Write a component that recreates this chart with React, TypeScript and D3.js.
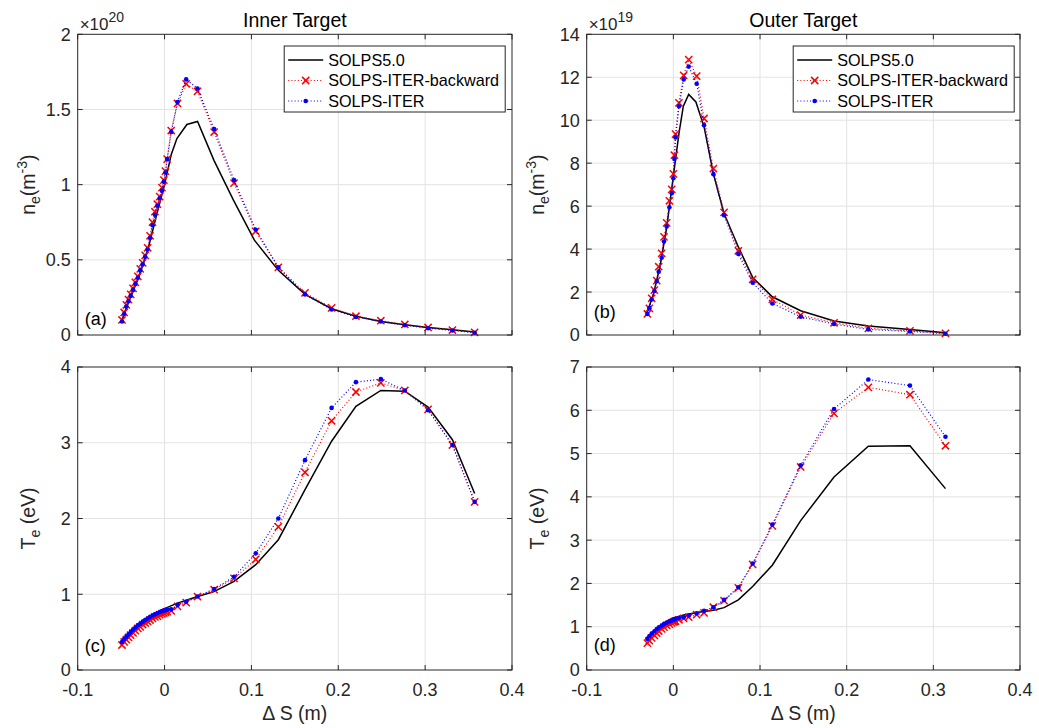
import React from "react";
import * as d3 from "d3";

// ---------- data ----------
const X_TICKS = [-0.1, 0, 0.1, 0.2, 0.3, 0.4];

// Inner target grid (panels a, c)
const xInner = [-0.049, -0.0465, -0.044, -0.0415, -0.039, -0.0363, -0.0336, -0.0308, -0.028, -0.0252, -0.0223, -0.0195, -0.0167, -0.0139, -0.0111, -0.0083, -0.0056, -0.003, -0.0008, 0.001, 0.003, 0.0077, 0.0149, 0.0249, 0.0379, 0.0571, 0.08, 0.105, 0.131, 0.1617, 0.1923, 0.2203, 0.249, 0.2766, 0.3034, 0.3314, 0.357];
const neInnerIter = [0.09, 0.14, 0.19, 0.225, 0.26, 0.3, 0.34, 0.38, 0.43, 0.47, 0.52, 0.57, 0.645, 0.73, 0.8, 0.86, 0.91, 0.96, 1.02, 1.08, 1.17, 1.35, 1.55, 1.7, 1.64, 1.37, 1.03, 0.7, 0.45, 0.27, 0.17, 0.12, 0.09, 0.065, 0.045, 0.03, 0.015];
const neInnerBack = [0.1, 0.15, 0.2, 0.235, 0.27, 0.31, 0.35, 0.39, 0.44, 0.48, 0.53, 0.58, 0.66, 0.75, 0.82, 0.87, 0.92, 0.98, 1.03, 1.09, 1.17, 1.36, 1.54, 1.67, 1.62, 1.35, 1.01, 0.69, 0.45, 0.28, 0.18, 0.125, 0.095, 0.07, 0.05, 0.033, 0.018];
const teInnerIter = [0.37, 0.41, 0.44, 0.47, 0.5, 0.53, 0.56, 0.59, 0.61, 0.635, 0.66, 0.68, 0.7, 0.72, 0.735, 0.75, 0.765, 0.775, 0.785, 0.79, 0.795, 0.8, 0.86, 0.9, 0.97, 1.07, 1.23, 1.54, 2.0, 2.77, 3.46, 3.8, 3.84, 3.69, 3.43, 2.97, 2.22];
const teInnerBack = [0.33, 0.37, 0.4, 0.43, 0.46, 0.49, 0.52, 0.55, 0.57, 0.6, 0.62, 0.64, 0.66, 0.68, 0.7, 0.71, 0.73, 0.74, 0.75, 0.76, 0.77, 0.78, 0.84, 0.89, 0.97, 1.06, 1.21, 1.46, 1.89, 2.61, 3.29, 3.67, 3.79, 3.69, 3.44, 2.97, 2.22];

const xInnerS5ne = [-0.049, -0.04, -0.03, -0.02, -0.01, 0.0, 0.0077, 0.0142, 0.0257, 0.038, 0.057, 0.0793, 0.1034, 0.131, 0.1617, 0.1923, 0.2203, 0.249, 0.2766, 0.3034, 0.3314, 0.357];
const neInnerS5 = [0.1, 0.24, 0.38, 0.55, 0.78, 1.0, 1.2, 1.307, 1.4, 1.42, 1.16, 0.897, 0.631, 0.43, 0.27, 0.175, 0.125, 0.09, 0.068, 0.05, 0.035, 0.02];
const xInnerS5te = [-0.049, -0.03, -0.02, -0.01, 0.0, 0.014, 0.038, 0.057, 0.08, 0.105, 0.131, 0.1617, 0.1923, 0.2203, 0.249, 0.2766, 0.3034, 0.3314, 0.357];
const teInnerS5 = [0.38, 0.6, 0.68, 0.75, 0.81, 0.88, 0.97, 1.035, 1.17, 1.39, 1.72, 2.38, 3.02, 3.48, 3.69, 3.68, 3.47, 3.04, 2.33];

// Outer target grid (panels b, d)
const xOuter = [-0.03, -0.0277, -0.025, -0.0219, -0.0192, -0.0169, -0.0135, -0.0108, -0.0077, -0.0046, -0.0019, 0.0, 0.0012, 0.0025, 0.0065, 0.0119, 0.0177, 0.0269, 0.0354, 0.0462, 0.0585, 0.075, 0.0915, 0.1142, 0.1469, 0.1854, 0.225, 0.273, 0.314];
const neOuterIter = [0.98, 1.25, 1.65, 2.05, 2.5, 2.95, 3.6, 4.35, 5.05, 5.95, 6.6, 7.3, 8.2, 9.2, 10.65, 11.9, 12.5, 11.7, 9.77, 7.49, 5.58, 3.77, 2.43, 1.47, 0.85, 0.51, 0.26, 0.17, 0.06];
const neOuterBack = [0.98, 1.24, 1.71, 2.09, 2.53, 3.18, 3.8, 4.57, 5.22, 6.25, 6.78, 7.5, 8.37, 9.35, 10.81, 12.09, 12.82, 12.05, 10.08, 7.75, 5.71, 3.92, 2.59, 1.66, 0.93, 0.57, 0.31, 0.19, 0.08];
const teOuterIter = [0.72, 0.78, 0.84, 0.89, 0.94, 0.98, 1.02, 1.06, 1.09, 1.12, 1.14, 1.16, 1.17, 1.18, 1.2, 1.22, 1.26, 1.31, 1.37, 1.45, 1.62, 1.91, 2.46, 3.36, 4.73, 6.03, 6.71, 6.57, 5.39];
const teOuterBack = [0.62, 0.68, 0.74, 0.8, 0.85, 0.9, 0.95, 0.99, 1.03, 1.06, 1.09, 1.11, 1.12, 1.13, 1.16, 1.19, 1.22, 1.28, 1.32, 1.45, 1.6, 1.9, 2.44, 3.33, 4.69, 5.93, 6.53, 6.36, 5.18];

const xOuterS5ne = [-0.03, -0.023, -0.0154, -0.0077, 0.0, 0.0065, 0.0115, 0.0177, 0.026, 0.0354, 0.0462, 0.0585, 0.075, 0.0915, 0.1142, 0.1469, 0.1854, 0.225, 0.273, 0.314];
const neOuterS5 = [1.08, 1.9, 3.2, 5.0, 7.4, 9.4, 10.65, 11.2, 10.85, 9.7, 7.5, 5.66, 4.1, 2.68, 1.78, 1.13, 0.65, 0.42, 0.26, 0.11];
const xOuterS5te = [-0.03, -0.02, -0.01, 0.0, 0.0119, 0.0269, 0.0462, 0.0585, 0.075, 0.0915, 0.1142, 0.1469, 0.1854, 0.225, 0.273, 0.314];
const teOuterS5 = [0.75, 0.95, 1.1, 1.2, 1.27, 1.33, 1.38, 1.44, 1.62, 1.93, 2.42, 3.45, 4.46, 5.17, 5.18, 4.19];

const LEGEND = ["SOLPS5.0", "SOLPS-ITER-backward", "SOLPS-ITER"];

// ---------- styling ----------
const FONT = "'Liberation Sans', Arial, Helvetica, sans-serif";
const AX = "#262626";
const GRID = "#e3e3e3";
const RED = "#ff0000";
const BLUE = "#0000ff";

type Pt = [number, number];
const zip = (xs: number[], ys: number[]): Pt[] => xs.map((x, i) => [x, ys[i]]);

interface PanelProps {
  left: number; right: number; top: number; bottom: number;
  yMax: number; yTicks: number[];
  black: Pt[]; red: Pt[]; blue: Pt[];
  tag: string; tagY: number;
  title?: string; exponent?: string;
  yLabel: "ne" | "te";
  showX: boolean;
}

function Cross({ x, y }: { x: number; y: number }) {
  const s = 3.6;
  return (
    <path d={`M${x - s},${y - s}L${x + s},${y + s}M${x - s},${y + s}L${x + s},${y - s}`} stroke={RED} strokeWidth={1.5} fill="none" />
  );
}

function Panel(p: PanelProps) {
  const xs = d3.scaleLinear().domain([-0.1, 0.4]).range([p.left, p.right]);
  const ys = d3.scaleLinear().domain([0, p.yMax]).range([p.bottom, p.top]);
  const line = d3.line<Pt>().x((d) => xs(d[0])).y((d) => ys(d[1]));
  const tickLen = 5;
  const midX = (p.left + p.right) / 2;
  const midY = (p.top + p.bottom) / 2;
  const lgX = p.left + 206.5;
  const lgY = 46;
  return (
    <g>
      {/* grid */}
      {X_TICKS.slice(1, -1).map((t) => (
        <line key={"gx" + t} x1={xs(t)} x2={xs(t)} y1={p.top} y2={p.bottom} stroke={GRID} strokeWidth={1} />
      ))}
      {p.yTicks.slice(1, -1).map((t) => (
        <line key={"gy" + t} x1={p.left} x2={p.right} y1={ys(t)} y2={ys(t)} stroke={GRID} strokeWidth={1} />
      ))}
      {/* series */}
      <path d={line(p.black) || ""} fill="none" stroke="#000" strokeWidth={1.5} />
      <path d={line(p.red) || ""} fill="none" stroke={RED} strokeWidth={1.2} strokeDasharray="1 2.2" />
      {p.red.map((d, i) => <Cross key={"r" + i} x={xs(d[0])} y={ys(d[1])} />)}
      <path d={line(p.blue) || ""} fill="none" stroke={BLUE} strokeWidth={1.2} strokeDasharray="1 2.2" />
      {p.blue.map((d, i) => <circle key={"b" + i} cx={xs(d[0])} cy={ys(d[1])} r={2.3} fill={BLUE} />)}
      {/* box + ticks */}
      <rect x={p.left} y={p.top} width={p.right - p.left} height={p.bottom - p.top} fill="none" stroke={AX} strokeWidth={1} />
      {X_TICKS.map((t) => (
        <g key={"tx" + t}>
          <line x1={xs(t)} x2={xs(t)} y1={p.bottom} y2={p.bottom - tickLen} stroke={AX} />
          <line x1={xs(t)} x2={xs(t)} y1={p.top} y2={p.top + tickLen} stroke={AX} />
          {p.showX && (
            <text x={xs(t)} y={p.bottom + 26} textAnchor="middle" fontSize={18} fill={AX} fontFamily={FONT}>{t}</text>
          )}
        </g>
      ))}
      {p.yTicks.map((t) => (
        <g key={"ty" + t}>
          <line x1={p.left} x2={p.left + tickLen} y1={ys(t)} y2={ys(t)} stroke={AX} />
          <line x1={p.right} x2={p.right - tickLen} y1={ys(t)} y2={ys(t)} stroke={AX} />
          <text x={p.left - 7} y={ys(t)} dy="0.36em" textAnchor="end" fontSize={18} fill={AX} fontFamily={FONT}>{t}</text>
        </g>
      ))}
      {/* exponent */}
      {p.exponent && (
        <text x={p.left + 2} y={p.top - 4} fontSize={17} fill={AX} fontFamily={FONT}>
          ×10<tspan fontSize={14} dy={-8}>{p.exponent}</tspan>
        </text>
      )}
      {/* title */}
      {p.title && (
        <text x={midX} y={p.top - 7} textAnchor="middle" fontSize={19.5} fill="#000" fontFamily={FONT}>{p.title}</text>
      )}
      {/* y label */}
      <text transform={`translate(${p.left - 43},${midY}) rotate(-90)`} textAnchor="middle" fontSize={19.5} fill={AX} fontFamily={FONT}>
        {p.yLabel === "ne" ? (
          <>n<tspan fontSize={14} dy={5}>e</tspan><tspan dy={-5}>(m</tspan><tspan fontSize={14} dy={-8}>-3</tspan><tspan dy={8}>)</tspan></>
        ) : (
          <>T<tspan fontSize={14} dy={5}>e</tspan><tspan dy={-5}> (eV)</tspan></>
        )}
      </text>
      {/* x label */}
      {p.showX && (
        <text x={midX} y={p.bottom + 50} textAnchor="middle" fontSize={19.5} fill={AX} fontFamily={FONT}>Δ S (m)</text>
      )}
      {/* panel tag */}
      <text x={p.left + 7} y={p.tagY} dy="0.36em" fontSize={18} fill="#000" fontFamily={FONT}>{p.tag}</text>
      {/* legend */}
      {p.title && (
        <g>
          <rect x={lgX} y={lgY} width={221} height={66} fill="#fff" stroke={AX} strokeWidth={1} />
          {LEGEND.map((name, i) => {
            const cy = lgY + 14 + i * 20.5;
            const x0 = lgX + 4, x1 = lgX + 39;
            return (
              <g key={name}>
                {i === 0 && <line x1={x0} x2={x1} y1={cy} y2={cy} stroke="#000" strokeWidth={1.5} />}
                {i === 1 && (<><line x1={x0} x2={x1} y1={cy} y2={cy} stroke={RED} strokeWidth={1.2} strokeDasharray="1 2.2" /><Cross x={(x0 + x1) / 2} y={cy} /></>)}
                {i === 2 && (<><line x1={x0} x2={x1} y1={cy} y2={cy} stroke={BLUE} strokeWidth={1.2} strokeDasharray="1 2.2" /><circle cx={(x0 + x1) / 2} cy={cy} r={2.3} fill={BLUE} /></>)}
                <text x={lgX + 44} y={cy} dy="0.36em" fontSize={16.2} fill="#000" fontFamily={FONT}>{name}</text>
              </g>
            );
          })}
        </g>
      )}
    </g>
  );
}

export default function App() {
  const L1 = 77.7, R1 = 512, L2 = 586.7, R2 = 1020;
  const T1 = 34.3, B1 = 335, T2 = 367, B2 = 670;
  return (
    <svg width={1039} height={728} style={{ position: "absolute", left: 0, top: 0, background: "#fff" }}>
      <rect x={0} y={0} width={1039} height={728} fill="#fff" />
      <Panel left={L1} right={R1} top={T1} bottom={B1} yMax={2} yTicks={[0, 0.5, 1, 1.5, 2]}
        black={zip(xInnerS5ne, neInnerS5)} red={zip(xInner, neInnerBack)} blue={zip(xInner, neInnerIter)}
        tag="(a)" tagY={319} title="Inner Target" exponent="20" yLabel="ne" showX={false} />
      <Panel left={L2} right={R2} top={T1} bottom={B1} yMax={14} yTicks={[0, 2, 4, 6, 8, 10, 12, 14]}
        black={zip(xOuterS5ne, neOuterS5)} red={zip(xOuter, neOuterBack)} blue={zip(xOuter, neOuterIter)}
        tag="(b)" tagY={312} title="Outer Target" exponent="19" yLabel="ne" showX={false} />
      <Panel left={L1} right={R1} top={T2} bottom={B2} yMax={4} yTicks={[0, 1, 2, 3, 4]}
        black={zip(xInnerS5te, teInnerS5)} red={zip(xInner, teInnerBack)} blue={zip(xInner, teInnerIter)}
        tag="(c)" tagY={646} yLabel="te" showX={true} />
      <Panel left={L2} right={R2} top={T2} bottom={B2} yMax={7} yTicks={[0, 1, 2, 3, 4, 5, 6, 7]}
        black={zip(xOuterS5te, teOuterS5)} red={zip(xOuter, teOuterBack)} blue={zip(xOuter, teOuterIter)}
        tag="(d)" tagY={645} yLabel="te" showX={true} />
    </svg>
  );
}
